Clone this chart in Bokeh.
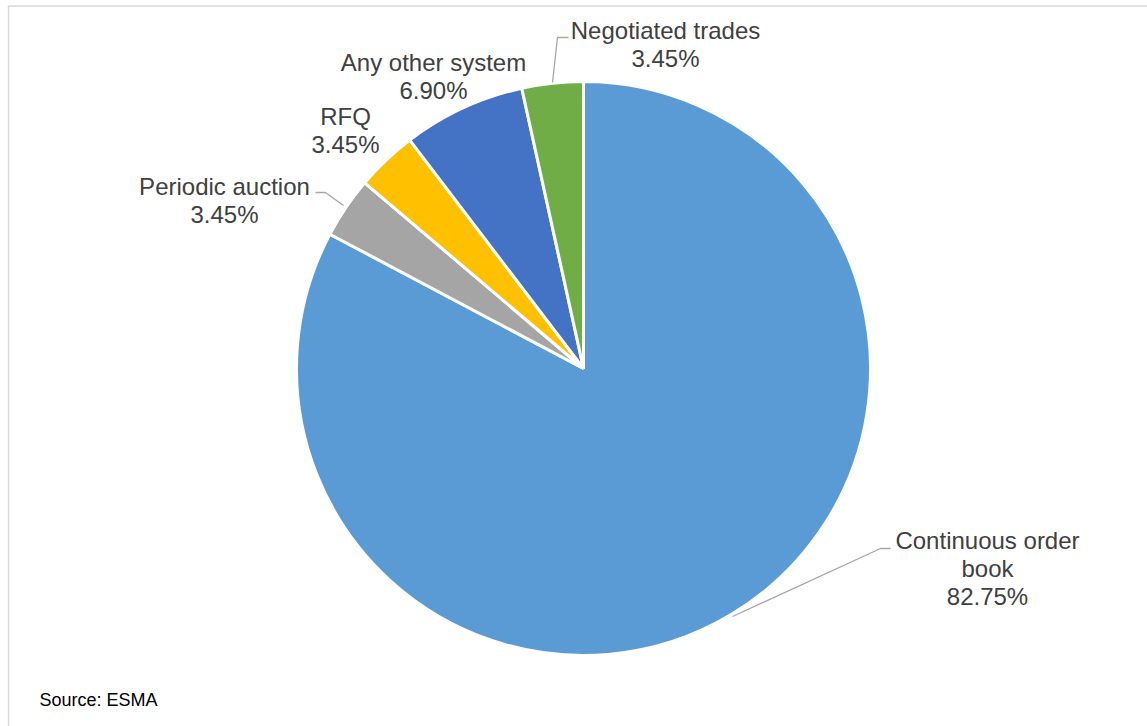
import math
from bokeh.plotting import figure
from bokeh.models import Range1d
from bokeh.core.properties import value
from bokeh.embed import file_html
from bokeh.resources import INLINE

# ---- data ----
categories = ["Continuous order book", "Periodic auction", "RFQ", "Any other system", "Negotiated trades"]
shares = [82.75, 3.45, 3.45, 6.90, 3.45]
colors = ["#5B9BD5", "#A5A5A5", "#FFC000", "#4472C4", "#70AD47"]
label_lines = [["Continuous order", "book"], ["Periodic auction"], ["RFQ"], ["Any other system"], ["Negotiated trades"]]

# ---- layout (screen pixels) ----
W, H = 1147, 726
CX, CY, R = 583, 368, 287
label_pos = [(987, 540), (224, 186), (345, 116), (433, 62), (665, 30)]
LINE_H = 28
leaders = {
    0: [(732, 616), (880, 548), (890, 548)],
    1: [(343, 205), (325, 192), (315, 192)],
    4: [(552, 82), (557, 37), (568, 37)],
}

def fy(y):
    return H - y

p = figure(width=W, height=H, output_backend="svg", toolbar_location=None,
           x_range=Range1d(0, W), y_range=Range1d(0, H), min_border=0)
p.axis.visible = False
p.grid.visible = False
p.outline_line_color = None
p.background_fill_color = "white"
p.border_fill_color = "white"

# frame lines
p.line([8, 8, W], [fy(H), fy(5.5), fy(5.5)], line_color="#D9D9D9", line_width=1.5)

# wedges, clockwise from 12 o'clock
total = sum(shares)
cum = 0.0
for v, c in zip(shares, colors):
    a0 = math.pi / 2 - cum / total * 2 * math.pi
    cum += v
    a1 = math.pi / 2 - cum / total * 2 * math.pi
    p.wedge(x=CX, y=fy(CY), radius=R, start_angle=a1, end_angle=a0,
            direction="anticlock", fill_color=c, line_color="white", line_width=3)

# leader lines
for i, pts in leaders.items():
    p.line([q[0] for q in pts], [fy(q[1]) for q in pts], line_color="#A6A6A6", line_width=1.3)

# labels
for i, (lines, v) in enumerate(zip(label_lines, shares)):
    x0, y0 = label_pos[i]
    texts = lines + [f"{v:.2f}%"]
    p.text(x=[x0] * len(texts), y=[fy(y0 + k * LINE_H) for k in range(len(texts))], text=texts,
           text_font=value("Liberation Sans"), text_font_size="24px", text_color="#404040",
           text_align="center", text_baseline="middle")

p.text(x=[39], y=[fy(699)], text=["Source: ESMA"], text_font=value("Liberation Sans"),
       text_font_size="18px", text_color="#000000", text_align="left", text_baseline="middle")

open("out.html", "w").write(file_html(p, INLINE))
